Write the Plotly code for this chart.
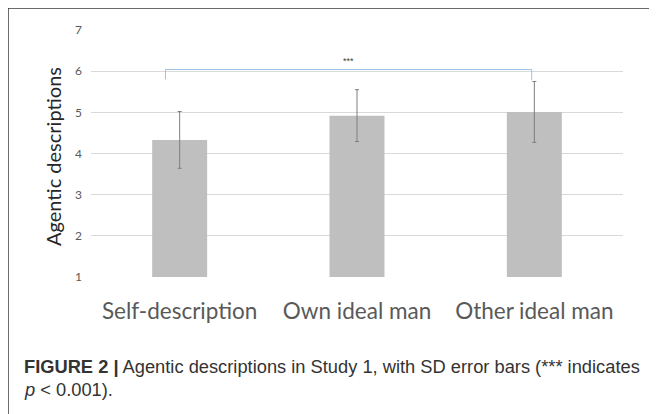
import plotly.graph_objects as go

categories = ["Self-description", "Own ideal man", "Other ideal man"]
means = [4.33, 4.92, 5.01]
sds = [0.69, 0.63, 0.74]
y_ticks = [1, 2, 3, 4, 5, 6, 7]
caption_bold = "FIGURE 2 |"
caption_rest = " Agentic descriptions in Study 1, with SD error bars (*** indicates"
caption_line2 = "<i>p</i> < 0.001)."
y_title = "Agentic descriptions"
sig_label = "***"

# page body has an 8px margin; work in reference-pixel coords and shift
OFF = 8
W, H = 657 - OFF, 414 - OFF
PL, PR, PT, PB = 91, 623, 30, 277  # plot area in reference pixels
L = PL - OFF
T = PT - OFF
R = W - (PR - OFF)
B = H - (PB - OFF)
pw = PR - PL
ph = PB - PT

def px(x):
    return (x - PL) / pw

def py(y):
    return (PB - y) / ph

fig = go.Figure()
fig.add_trace(go.Bar(
    x=categories, y=[m - 1 for m in means], base=1,
    marker=dict(color="#bfbfbf", line=dict(width=0)),
    error_y=dict(type="data", array=sds, visible=True, color="#7f7f7f",
                 thickness=1, width=2),
    width=0.31,
    hoverinfo="skip",
))

shapes = [
    # frame
    dict(type="line", xref="paper", yref="paper", x0=px(8), x1=px(700), y0=py(8), y1=py(8),
         line=dict(color="#3a3a3a", width=1.5)),
    dict(type="line", xref="paper", yref="paper", x0=px(8), x1=px(8), y0=py(8), y1=py(450),
         line=dict(color="#3a3a3a", width=1.5)),
    # significance bracket
    dict(type="line", xref="x", yref="y", x0=-0.08, x1=1.985, y0=6.04, y1=6.04,
         line=dict(color="#9dc3e6", width=1)),
    dict(type="line", xref="x", yref="y", x0=-0.08, x1=-0.08, y0=6.04, y1=5.8,
         line=dict(color="#9dc3e6", width=1)),
    dict(type="line", xref="x", yref="y", x0=1.985, x1=1.985, y0=6.04, y1=5.78,
         line=dict(color="#9dc3e6", width=1)),
]

annotations = [
    dict(x=0.95, y=6.25, xref="x", yref="y", text=sig_label, showarrow=False,
         font=dict(family="Liberation Sans", size=9, color="#404040")),
    dict(x=px(22), y=py(366), xref="paper", yref="paper", xanchor="left", yanchor="middle",
         text="<b>" + caption_bold + "</b>" + caption_rest, showarrow=False,
         font=dict(family="Liberation Sans", size=18.3, color="#333333")),
    dict(x=px(22), y=py(389), xref="paper", yref="paper", xanchor="left", yanchor="middle",
         text=caption_line2, showarrow=False,
         font=dict(family="Liberation Sans", size=18.3, color="#333333")),
    dict(x=px(53), y=py(157), xref="paper", yref="paper", xanchor="center", yanchor="middle",
         text=y_title, textangle=-90, showarrow=False,
         font=dict(family="Lato", size=20, color="#262626")),
]

fig.update_layout(
    width=W, height=H,
    margin=dict(l=L, r=R, t=T, b=B, autoexpand=False),
    paper_bgcolor="white", plot_bgcolor="white",
    showlegend=False,
    shapes=shapes,
    annotations=annotations,
    xaxis=dict(
        tickfont=dict(family="Lato", size=22.5, color="#595959"),
        showgrid=False, showline=False, ticks="", ticklen=0,
        ticklabelstandoff=18,
        range=[-0.5, 2.5],
    ),
    yaxis=dict(
        range=[1, 7], tickvals=y_ticks,
        tickfont=dict(family="Lato", size=12, color="#595959"),
        showgrid=True, gridcolor="#d9d9d9", gridwidth=1,
        zeroline=False, showline=False, ticks="", ticklen=0,
        ticklabelstandoff=8,
    ),
)

fig.write_html("out.html")
